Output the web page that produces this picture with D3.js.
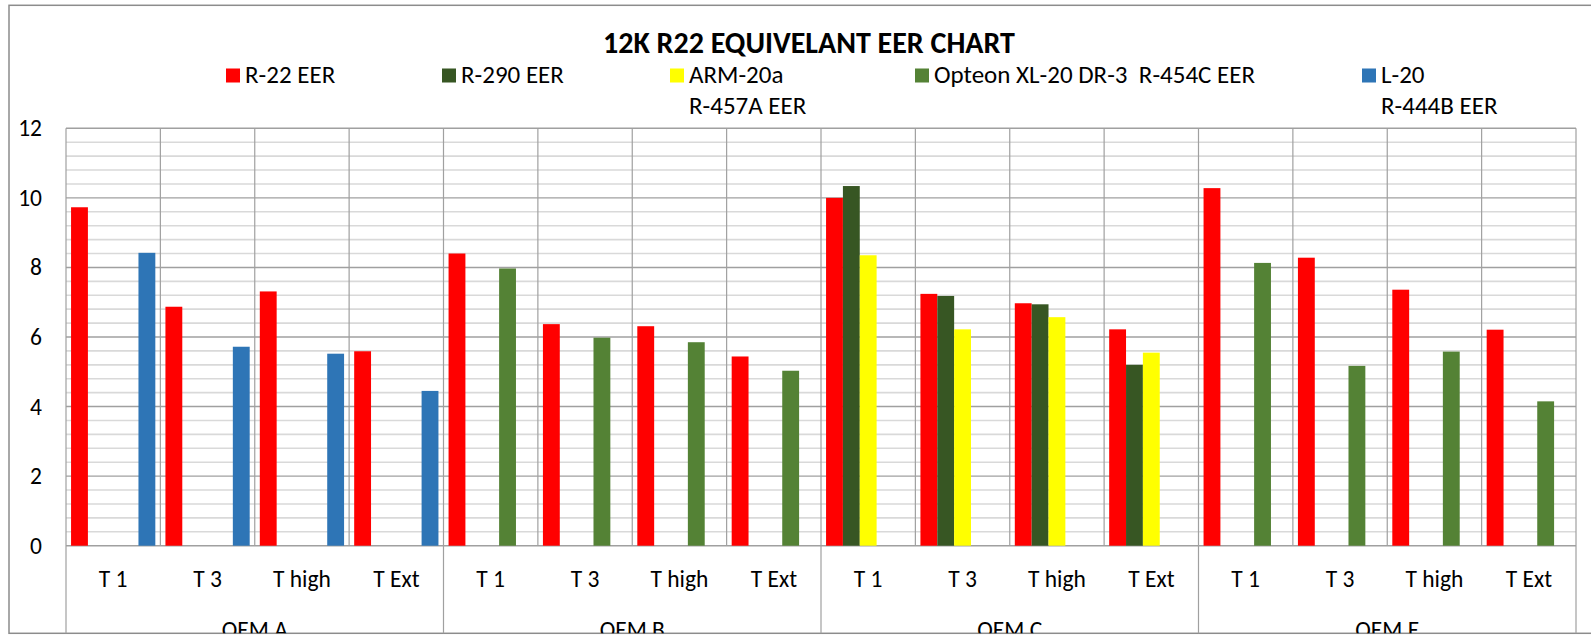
<!DOCTYPE html>
<html>
<head>
<meta charset="utf-8">
<script src="https://cdn.jsdelivr.net/npm/d3@7"></script>
<style>
  body { margin: 0; background: #fff; }
  svg { display: block; font-family: Carlito, Lato, sans-serif; }
</style>
</head>
<body>
<script>
// groups and tests on the two level x axis
var groups = ["OEM A", "OEM B", "OEM C", "OEM E"];
var tests = ["T 1", "T 3", "T high", "T Ext"];

// one value for each group/test, in order, null where there is no bar
var r22    = [9.73, 6.87, 7.31, 5.59,  8.40, 6.37, 6.31, 5.44,  10.0, 7.24, 6.97, 6.22,  10.28, 8.28, 7.36, 6.21];
var r290   = [null, null, null, null,  null, null, null, null,  10.34, 7.18, 6.94, 5.20, null, null, null, null];
var arm20a = [null, null, null, null,  null, null, null, null,  8.35, 6.22, 6.57, 5.55,  null, null, null, null];
var opteon = [null, null, null, null,  7.97, 5.98, 5.85, 5.03,  null, null, null, null,  8.13, 5.17, 5.58, 4.15];
var l20    = [8.42, 5.72, 5.52, 4.45,  null, null, null, null,  null, null, null, null,  null, null, null, null];

var seriesNames = [["R-22 EER"], ["R-290 EER"], ["ARM-20a", "R-457A EER"], ["Opteon XL-20 DR-3  R-454C EER"], ["L-20", "R-444B EER"]];
var yTicks = [0, 2, 4, 6, 8, 10, 12];

var colors = ["#ff0000", "#375623", "#ffff00", "#548235", "#2e75b6"];
var allSeries = [r22, r290, arm20a, opteon, l20];

var W = 1591, H = 639;
// plot box (window.top is taken, hence plotTop)
var plotLeft = 66, plotRight = 1576, plotTop = 128.3, zero = 545.7, bottom = 633.3;
var fs = 23.5;

var svg = d3.select("body").append("svg")
  .attr("width", W)
  .attr("height", H);

// chart area clip, the lower labels are cut by the frame
svg.append("clipPath").attr("id", "area")
  .append("rect").attr("x", 9).attr("y", 5.3).attr("width", W).attr("height", bottom - 5.3);

var keys = [];
groups.forEach(function(g) { tests.forEach(function(t) { keys.push(g + "|" + t); }); });

var x0 = d3.scaleBand().domain(keys).range([plotLeft, plotRight]).padding(0);
var xg = d3.scaleBand().domain(groups).range([plotLeft, plotRight]).padding(0);
var x1 = d3.scaleBand().domain(d3.range(allSeries.length))
  .range([0, x0.bandwidth()]).paddingInner(0).paddingOuter(0.3);
var y = d3.scaleLinear().domain([0, 12]).range([zero, plotTop]);

// outer frame
svg.append("rect")
  .attr("x", 9).attr("y", 5.3)
  .attr("width", W).attr("height", bottom - 5.3)
  .attr("fill", "none").attr("stroke", "#8c8c8c").attr("stroke-width", 1.5);

// title
svg.append("text")
  .attr("x", 809).attr("y", 53.3)
  .attr("text-anchor", "middle")
  .attr("font-weight", "bold")
  .attr("font-size", 30)
  .attr("fill", "#000")
  .text("12K R22 EQUIVELANT EER CHART");

// legend
var legendX = [226, 442, 670, 915, 1362];
var legend = svg.selectAll("g.leg")
  .data(seriesNames)
  .enter().append("g")
  .attr("class", "leg")
  .attr("transform", function(d, i) { return "translate(" + legendX[i] + ",0)"; });
legend.append("rect")
  .attr("x", 0).attr("y", 68.5)
  .attr("width", 14).attr("height", 14)
  .attr("fill", function(d, i) { return colors[i]; });
legend.each(function(lines) {
  var g = d3.select(this);
  lines.forEach(function(l, k) {
    g.append("text")
      .attr("x", 19).attr("y", 83.3 + k * 31)
      .attr("font-size", 25)
      .style("white-space", "pre")
      .text(l);
  });
});

// minor gridlines every 0.4, major every 2
var minor = d3.range(1, 30).map(function(i) { return i * 0.4; }).filter(function(v) { return Math.abs(v / 2 - Math.round(v / 2)) > 0.01; });
svg.append("g").selectAll("line")
  .data(minor)
  .enter().append("line")
  .attr("x1", plotLeft).attr("x2", plotRight)
  .attr("y1", function(d) { return y(d); })
  .attr("y2", function(d) { return y(d); })
  .attr("stroke", "#d9d9d9").attr("stroke-width", 1.6);
svg.append("g").selectAll("line")
  .data(yTicks)
  .enter().append("line")
  .attr("x1", plotLeft).attr("x2", plotRight)
  .attr("y1", function(d) { return y(d); })
  .attr("y2", function(d) { return y(d); })
  .attr("stroke", "#a0a0a0").attr("stroke-width", 1.4);

// vertical separators between tests, group borders go down through the labels
var seps = keys.map(function(k) { return x0(k); }).concat([plotRight]);
svg.append("g").selectAll("line")
  .data(seps)
  .enter().append("line")
  .attr("x1", function(d) { return d; })
  .attr("x2", function(d) { return d; })
  .attr("y1", plotTop)
  .attr("y2", function(d, i) { return i % tests.length == 0 ? bottom : zero; })
  .attr("stroke", "#a0a0a0").attr("stroke-width", 1.2);

// bars
allSeries.forEach(function(vals, s) {
  svg.append("g").selectAll("rect")
    .data(vals.map(function(v, i) { return {key: keys[i], v: v}; }).filter(function(d) { return d.v != null; }))
    .enter().append("rect")
    .attr("x", function(d) { return x0(d.key) + x1(s); })
    .attr("y", function(d) { return y(d.v); })
    .attr("width", x1.bandwidth())
    .attr("height", function(d) { return zero - y(d.v); })
    .attr("fill", colors[s]);
});

function styleAxis(g) {
  g.attr("font-family", null).attr("font-size", null);
  g.select(".domain").remove();
  g.selectAll("text").attr("font-size", fs).attr("fill", "#000");
}

// y axis labels
svg.append("g")
  .attr("transform", "translate(42,0)")
  .call(d3.axisLeft(y).tickValues(yTicks).tickSize(0).tickPadding(0))
  .call(styleAxis);

// first row: test names
svg.append("g")
  .attr("transform", "translate(0," + zero + ")")
  .call(d3.axisBottom(x0).tickSize(0).tickPadding(0).tickFormat(function(k) { return k.split("|")[1]; }))
  .call(styleAxis)
  .selectAll("text").attr("dy", null).attr("y", 41.5);

// second row: OEM names, clipped by the frame
svg.append("g")
  .attr("clip-path", "url(#area)")
  .append("g")
  .attr("transform", "translate(0," + zero + ")")
  .call(d3.axisBottom(xg).tickSize(0).tickPadding(0))
  .call(styleAxis)
  .selectAll("text").attr("dy", null).attr("y", 92);
</script>
</body>
</html>
